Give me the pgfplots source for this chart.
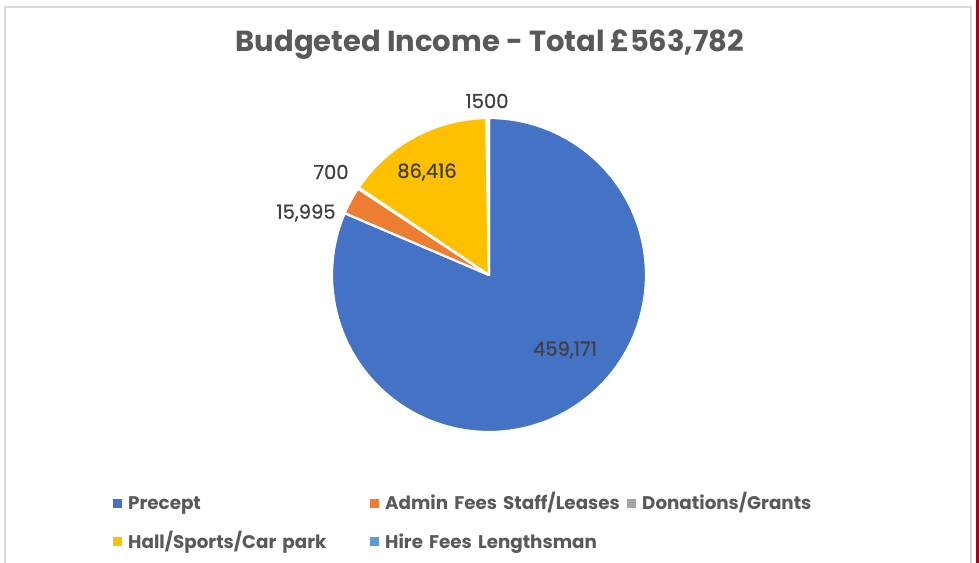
\documentclass[border=0pt]{standalone}
\usepackage{pgfplots}
\pgfplotsset{compat=1.18}
\usepackage{fontspec}
\setmainfont{Poppins}
\newfontfamily\lblfont{Poppins}[FakeBold=0.6]
\definecolor{cA}{HTML}{4472C4}
\definecolor{cB}{HTML}{ED7D31}
\definecolor{cC}{HTML}{A5A5A5}
\definecolor{cD}{HTML}{FFC000}
\definecolor{cE}{HTML}{5B9BD5}
\definecolor{ttl}{HTML}{595959}
\definecolor{lbl}{HTML}{404040}
\definecolor{frm}{HTML}{D9D9D9}
\definecolor{dred}{HTML}{A50021}
% values
\def\vA{459171}% Precept
\def\vB{15995}% Admin Fees Staff/Leases
\def\vC{700}% Donations/Grants
\def\vD{86416}% Hall/Sports/Car park
\def\vE{1500}% Hire Fees Lengthsman
\edef\tot{\fpeval{\vA+\vB+\vC+\vD+\vE}}
\edef\sA{90}
\edef\sB{\fpeval{\sA-360*\vA/\tot}}
\edef\sC{\fpeval{\sB-360*\vB/\tot}}
\edef\sD{\fpeval{\sC-360*\vC/\tot}}
\edef\sE{\fpeval{\sD-360*\vD/\tot}}
\edef\sF{\fpeval{\sE-360*\vE/\tot}}
\def\cx{489}\def\cy{275}\def\rr{157}
\begin{document}
\begin{tikzpicture}
\begin{axis}[at={(0,0)}, anchor=south west, width=979pt, height=562pt, scale only axis,
  xmin=0, xmax=979, ymin=0, ymax=562, y dir=reverse, hide axis, clip=false,
  legend columns=3, legend cell align=left,
  legend style={at={(axis cs:113,497)}, anchor=north west, draw=none, fill=none,
    inner sep=0pt, row sep=22pt,
    font=\bfseries\fontsize{18.3}{21}\selectfont, text=ttl,
    nodes={text width=236pt, inner xsep=6pt, inner ysep=0pt, text height=12.5pt, text depth=4pt}},
  legend image code/.code={\fill[#1,draw=none] (0pt,-2.5pt) rectangle (9pt,6.5pt);},
]
\addplot[fill=cA, draw=white, line width=2.2pt, line join=round, domain=\sB:\sA, samples=120, variable=\t]
  ({\cx+\rr*cos(\t)}, {\cy-\rr*sin(\t)}) -- (axis cs:\cx,\cy) -- cycle;
\addlegendentry{Precept}
\addplot[fill=cB, draw=white, line width=2.2pt, line join=round, domain=\sC:\sB, samples=10, variable=\t]
  ({\cx+\rr*cos(\t)}, {\cy-\rr*sin(\t)}) -- (axis cs:\cx,\cy) -- cycle;
\addlegendentry{Admin Fees Staff/Leases}
\addplot[fill=cC, draw=white, line width=2.2pt, line join=round, domain=\sD:\sC, samples=3, variable=\t]
  ({\cx+\rr*cos(\t)}, {\cy-\rr*sin(\t)}) -- (axis cs:\cx,\cy) -- cycle;
\addlegendentry{Donations/Grants}
\addplot[fill=cD, draw=white, line width=2.2pt, line join=round, domain=\sE:\sD, samples=40, variable=\t]
  ({\cx+\rr*cos(\t)}, {\cy-\rr*sin(\t)}) -- (axis cs:\cx,\cy) -- cycle;
\addlegendentry{Hall/Sports/Car park}
\addplot[fill=cE, draw=white, line width=2.2pt, line join=round, domain=\sF:\sE, samples=3, variable=\t]
  ({\cx+\rr*cos(\t)}, {\cy-\rr*sin(\t)}) -- (axis cs:\cx,\cy) -- cycle;
\addlegendentry{Hire Fees Lengthsman}
% data labels
\begin{scope}[every node/.style={font=\lblfont\fontsize{19.5}{22}\selectfont, text=lbl}]
\node at (axis cs:565,350) {459,171};
\node at (axis cs:306,213) {15,995};
\node at (axis cs:331,172) {700};
\node at (axis cs:427,172) {86,416};
\node at (axis cs:487,101) {1500};
\end{scope}
% title
\node[font=\bfseries\fontsize{29}{33}\selectfont, text=ttl] at (axis cs:490,45) {Budgeted Income - Total £563,782};
% frame
\draw[frm, line width=1.5pt] (axis cs:5,580) -- (axis cs:5,7) -- (axis cs:971,7) -- (axis cs:971,580);
\draw[dred, line width=3pt] (axis cs:977.5,-10) -- (axis cs:977.5,580);
\end{axis}
\pgfresetboundingbox
\useasboundingbox (0,0) rectangle (979pt,562pt);
\end{tikzpicture}
\end{document}
